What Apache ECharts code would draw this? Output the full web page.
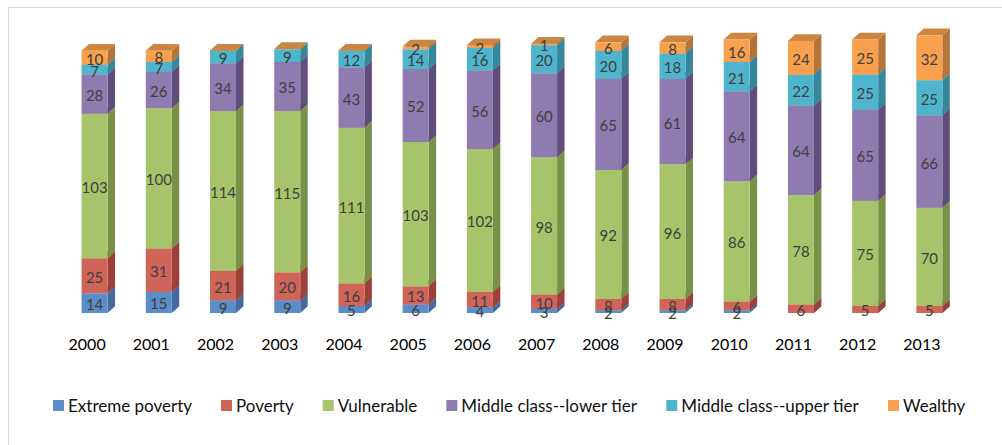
<!DOCTYPE html>
<html>
<head>
<meta charset="utf-8">
<script src="https://cdn.jsdelivr.net/npm/echarts@6/dist/echarts.min.js"></script>
<style>
html,body{margin:0;padding:0;background:#fff;}
#chart{width:1002px;height:445px;}
</style>
</head>
<body>
<div id="chart"></div>
<script>
const years = ['2000','2001','2002','2003','2004','2005','2006','2007','2008','2009','2010','2011','2012','2013'];
const extremePoverty = [14,15,9,9,5,6,4,3,2,2,2,0,0,0];
const poverty = [25,31,21,20,16,13,11,10,8,8,6,6,5,5];
const vulnerable = [103,100,114,115,111,103,102,98,92,96,86,78,75,70];
const middleLower = [28,26,34,35,43,52,56,60,65,61,64,64,65,66];
const middleUpper = [7,7,9,9,12,14,16,20,20,18,21,22,25,25];
const wealthy = [10,8,0,0,0,2,2,1,6,8,16,24,25,32];

const seriesNames = ['Extreme poverty','Poverty','Vulnerable','Middle class--lower tier','Middle class--upper tier','Wealthy'];
const seriesValues = [extremePoverty, poverty, vulnerable, middleLower, middleUpper, wealthy];
const frontColors = ['#5B8DC8','#CF6459','#A8C46A','#8E7BB0','#4FB5CD','#F9A04E'];
const sideColors  = ['#45699B','#9C403A','#7A8F47','#5F4D7B','#37879B','#B5743A'];
const topColors   = ['#4D7DB8','#BC564D','#93AF58','#7B699C','#3F9EB5','#CD8641'];

function makeRender(si) {
  return function (params, api) {
    const i = api.value(0), b = api.value(1), t = api.value(2), v = api.value(3);
    const p0 = api.coord([i, b]);
    const p1 = api.coord([i, t]);
    const band = api.size([1, 0])[0];
    const L = p0[0] - band * 0.086;
    const w = band * 0.405;
    const dx = band * 0.116;
    const dy = band * 0.105;
    const yb = p0[1], yt = p1[1];
    const children = [
      { type: 'polygon', shape: { points: [[L + w, yb], [L + w + dx, yb - dy], [L + w + dx, yt - dy], [L + w, yt]] }, style: { fill: sideColors[si] } },
      { type: 'polygon', shape: { points: [[L, yt], [L + w, yt], [L + w + dx, yt - dy], [L + dx, yt - dy]] }, style: { fill: topColors[si] } },
      { type: 'rect', shape: { x: L, y: yt, width: w, height: yb - yt }, style: { fill: frontColors[si] } }
    ];
    if (v > 0) {
      children.push({
        type: 'text', z2: 100,
        style: { text: String(v), x: L + w / 2, y: (yt + yb) / 2 + 1, align: 'center', verticalAlign: 'middle', fill: '#404040', fontSize: 15, fontFamily: 'Lato, "Open Sans", sans-serif' }
      });
    }
    return { type: 'group', children: children };
  };
}

const series = seriesNames.map(function (name, si) {
  const data = years.map(function (y, i) {
    let base = 0;
    for (let k = 0; k < si; k++) base += seriesValues[k][i];
    const v = seriesValues[si][i];
    return [i, base, base + v, v];
  });
  return {
    type: 'custom', name: name,
    itemStyle: { color: frontColors[si] },
    renderItem: makeRender(si),
    encode: { x: 0, y: [1, 2] },
    data: data
  };
});

const chart = echarts.init(document.getElementById('chart'), null, { renderer: 'svg' });
chart.setOption({
  animation: false,
  backgroundColor: '#fff',
  graphic: [{ type: 'rect', left: 6, top: 5, shape: { width: 1100, height: 500 }, style: { fill: 'none', stroke: '#D9D9D9', lineWidth: 1 } }],
  grid: { left: 55, top: 32.5, width: 899, height: 280.5 },
  xAxis: {
    type: 'category', data: years,
    axisLine: { show: false }, axisTick: { show: false },
    axisLabel: { color: '#000', fontSize: 16, fontFamily: 'Lato, "Open Sans", sans-serif', margin: 22 }
  },
  yAxis: { type: 'value', min: 0, max: 200, show: false, splitLine: { show: false } },
  legend: {
    left: 53, top: 397, itemWidth: 11, itemHeight: 11, itemGap: 29, icon: 'rect', padding: 0,
    textStyle: { color: '#111', fontSize: 17, fontFamily: 'Lato, "Open Sans", sans-serif', padding: [0, 0, 0, -1] },
    data: seriesNames
  },
  series: series
});
</script>
</body>
</html>
